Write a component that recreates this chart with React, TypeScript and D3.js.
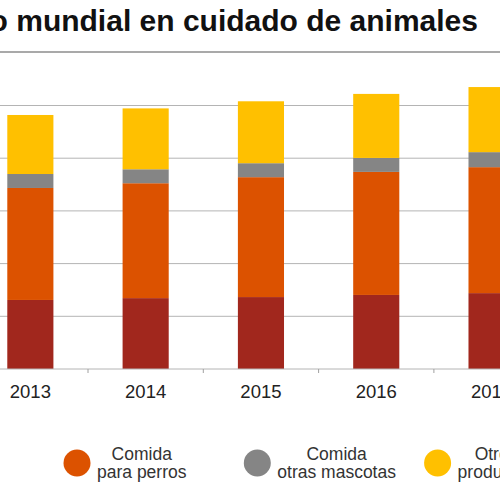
import React, { useEffect, useRef } from "react";
import * as d3 from "d3";

const years = ["2013", "2014", "2015", "2016", "2017"];
const seriesNames = ["Comida para gatos", "Comida para perros", "Comida otras mascotas", "Otros productos"];
const legendLines = [["Comida", "para gatos"], ["Comida", "para perros"], ["Comida", "otras mascotas"], ["Otros", "productos"]];
const catFood = [26.2, 26.9, 27.3, 28.1, 28.8];
const dogFood = [42.5, 43.6, 45.5, 46.7, 47.8];
const otherPetFood = [5.3, 5.3, 5.3, 5.3, 5.7];
const otherProducts = [22.4, 23.1, 23.5, 24.3, 24.7];
const gridTicks = [0, 20, 40, 60, 80, 100];
const colors = ["#A1271D", "#DC5200", "#858585", "#FFC000"];
const title = "Gasto mundial en cuidado de animales";

export default function App() {
  const ref = useRef<SVGSVGElement>(null);
  useEffect(() => {
    const svg = d3.select(ref.current);
    svg.selectAll("*").remove();
    const W = 500, H = 500;
    const step = 115.3;
    const x0 = 88 - step;
    const x = d3.scaleBand().domain(years).range([x0, x0 + step * years.length]).padding(0);
    const y = d3.scaleLinear().domain([0, 120]).range([369, 52.8]);
    const font = "'Liberation Sans', Arial, sans-serif";

    const rows = years.map((yr, i) => ({
      year: yr,
      s0: catFood[i], s1: dogFood[i], s2: otherPetFood[i], s3: otherProducts[i],
    }));
    const stack = d3.stack<any>().keys(["s0", "s1", "s2", "s3"]);
    const layers = stack(rows);

    // title
    svg.append("text").attr("x", 478).attr("y", 30.5).attr("text-anchor", "end")
      .attr("font-family", font).attr("font-weight", "bold").attr("font-size", 30)
      .attr("fill", "#111").text(title);
    svg.append("line").attr("x1", 0).attr("x2", W).attr("y1", 52).attr("y2", 52)
      .attr("stroke", "#8c8c8c").attr("stroke-width", 1.5);

    // grid
    svg.append("g").selectAll("line").data(gridTicks.filter(t => t > 0)).join("line")
      .attr("x1", 0).attr("x2", W).attr("y1", d => y(d)).attr("y2", d => y(d))
      .attr("stroke", "#b4b4b4").attr("stroke-width", 1);

    // bars
    const bw = x.bandwidth() * 0.4;
    svg.append("g").selectAll("g").data(layers).join("g")
      .attr("fill", (_, i) => colors[i])
      .selectAll("rect").data(d => d).join("rect")
      .attr("x", d => (x(d.data.year) as number) + x.bandwidth() / 2 - bw / 2)
      .attr("width", bw)
      .attr("y", d => y(d[1]))
      .attr("height", d => y(d[0]) - y(d[1]));

    // baseline + ticks
    svg.append("line").attr("x1", 0).attr("x2", W).attr("y1", y(0)).attr("y2", y(0))
      .attr("stroke", "#b4b4b4").attr("stroke-width", 1);
    const bounds = years.slice(1).map(yr => x(yr) as number);
    svg.append("g").selectAll("line").data(bounds).join("line")
      .attr("x1", d => d).attr("x2", d => d).attr("y1", y(0)).attr("y2", y(0) + 4)
      .attr("stroke", "#a0a0a0").attr("stroke-width", 1);

    svg.append("g").selectAll("text").data(years).join("text")
      .attr("x", d => (x(d) as number) + x.bandwidth() / 2).attr("y", 398)
      .attr("text-anchor", "middle").attr("font-family", font).attr("font-size", 18.5)
      .attr("fill", "#222").text(d => d);

    // legend
    const legStep = 180.3;
    const legX0 = 77 - legStep;
    const lg = svg.append("g").selectAll("g").data(seriesNames).join("g")
      .attr("transform", (_, i) => `translate(${legX0 + i * legStep},463)`);
    lg.append("circle").attr("r", 13.5).attr("fill", (_, i) => colors[i]);
    lg.each(function (_, i) {
      const g = d3.select(this);
      const t = g.append("text").attr("font-family", font).attr("font-size", 17.5).attr("fill", "#333");
      const lines = legendLines[i];
      const spans = lines.map((ln, j) => t.append("tspan").attr("x", 0).attr("y", j === 0 ? -3 : 15).text(ln));
      const widths = spans.map(s => (s.node() as SVGTSpanElement).getComputedTextLength());
      const bwid = Math.max(...widths);
      const cx = 20 + bwid / 2;
      spans.forEach(s => s.attr("x", cx).attr("text-anchor", "middle"));
    });
  }, []);
  return (
    <svg ref={ref} width={500} height={500}
      style={{ position: "absolute", left: 0, top: 0, background: "#fff" }} />
  );
}
